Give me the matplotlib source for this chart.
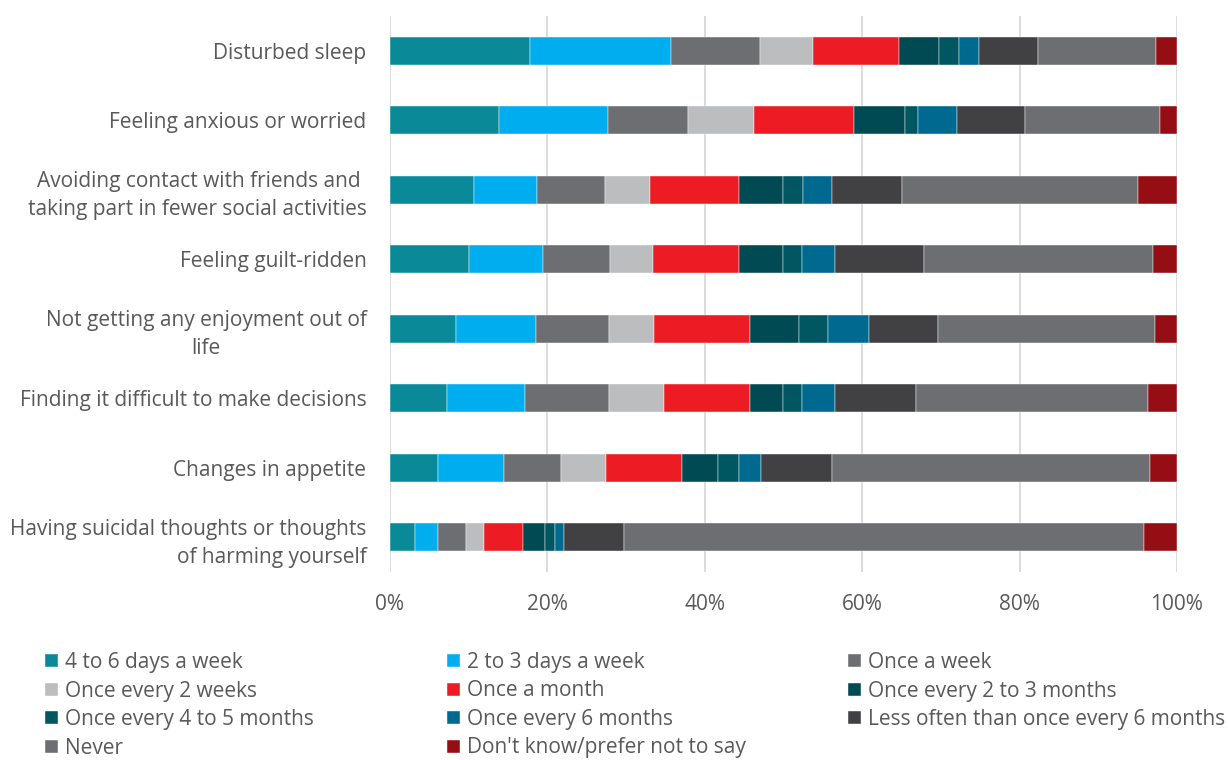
import matplotlib
matplotlib.use("Agg")
import matplotlib.pyplot as plt
import numpy as np

plt.rcParams['font.family'] = ['Open Sans', 'DejaVu Sans']

# survey items, top to bottom
symptoms = [
    "Disturbed sleep",
    "Feeling anxious or worried",
    "Avoiding contact with friends and \ntaking part in fewer social activities",
    "Feeling guilt-ridden",
    "Not getting any enjoyment out of\nlife",
    "Finding it difficult to make decisions",
    "Changes in appetite",
    "Having suicidal thoughts or thoughts\nof harming yourself",
]
label_align = ["right", "right", "right", "right", "center", "right", "right", "right"]

frequencies = [
    "4 to 6 days a week",
    "2 to 3 days a week",
    "Once a week",
    "Once every 2 weeks",
    "Once a month",
    "Once every 2 to 3 months",
    "Once every 4 to 5 months",
    "Once every 6 months",
    "Less often than once every 6 months",
    "Never",
    "Don't know/prefer not to say",
]

# share of respondents (%) per frequency, one list per symptom
disturbed_sleep = [17.8, 17.9, 11.3, 6.7, 11.0, 5.1, 2.5, 2.5, 7.6, 14.9, 2.7]
anxious_worried = [13.9, 13.8, 10.2, 8.4, 12.6, 6.6, 1.6, 5.0, 8.6, 17.1, 2.2]
avoiding_contact = [10.7, 8.0, 8.6, 5.7, 11.3, 5.7, 2.5, 3.7, 8.9, 30.0, 4.9]
guilt_ridden = [10.0, 9.4, 8.6, 5.4, 10.9, 5.7, 2.3, 4.2, 11.4, 29.0, 3.1]
no_enjoyment = [8.4, 10.2, 9.2, 5.8, 12.1, 6.3, 3.7, 5.2, 8.7, 27.6, 2.8]
difficult_decisions = [7.3, 9.8, 10.7, 7.0, 10.9, 4.3, 2.3, 4.2, 10.3, 29.5, 3.7]
appetite = [6.1, 8.4, 7.2, 5.7, 9.7, 4.6, 2.6, 2.9, 9.0, 40.4, 3.4]
suicidal_thoughts = [3.2, 2.9, 3.6, 2.2, 5.0, 2.8, 1.3, 1.1, 7.6, 66.1, 4.2]

colors = ["#0A8A98", "#00AEEF", "#6D6E71", "#BCBDBF", "#ED1C24", "#004B53",
          "#005661", "#006990", "#414042", "#6D6E71", "#940E14"]

data = np.array([disturbed_sleep, anxious_worried, avoiding_contact, guilt_ridden,
                 no_enjoyment, difficult_decisions, appetite, suicidal_thoughts])
data = data / data.sum(axis=1, keepdims=True) * 100

fig = plt.figure(figsize=(12.28, 7.6), dpi=100)
ax = fig.add_axes([390 / 1228, 1 - 572 / 760, 787 / 1228, 556 / 760])

y = np.arange(len(symptoms))
left = np.zeros(len(symptoms))
handles = []
for j, freq in enumerate(frequencies):
    bars = ax.barh(y, data[:, j], left=left, height=0.41, color=colors[j],
                   edgecolor="white", linewidth=0.3, label=freq, zorder=3)
    handles.append(bars)
    left += data[:, j]

ax.set_xlim(0, 100)
ax.set_ylim(len(symptoms) - 0.5, -0.5)
ax.set_xticks(np.arange(0, 101, 20))
ax.set_xticklabels([f"{v}%" for v in range(0, 101, 20)])
ax.set_yticks(y)
ax.set_yticklabels(symptoms, linespacing=1.45)
for lab, al in zip(ax.get_yticklabels(), label_align):
    lab.set_multialignment(al)

ax.grid(axis="x", color="#D9D9D9", linewidth=1.3, zorder=0)
for s in ax.spines.values():
    s.set_visible(False)
ax.tick_params(axis="both", length=0, labelsize=15, colors="#595959")
ax.tick_params(axis="y", pad=17)
ax.tick_params(axis="x", pad=16)

# legend laid out row by row in three columns
col_x = [45 / 1228, 447 / 1228, 848 / 1228]
for c in range(3):
    idx = list(range(c, len(frequencies), 3))
    fig.legend([handles[i] for i in idx], [frequencies[i] for i in idx],
               loc="upper left", bbox_to_anchor=(col_x[c], 1 - 652 / 760),
               frameon=False, fontsize=15, labelcolor="#595959",
               handlelength=0.6, handleheight=0.6, handletextpad=0.35,
               labelspacing=0.36, borderpad=0, borderaxespad=0)

fig.savefig("out.png", dpi=100)
